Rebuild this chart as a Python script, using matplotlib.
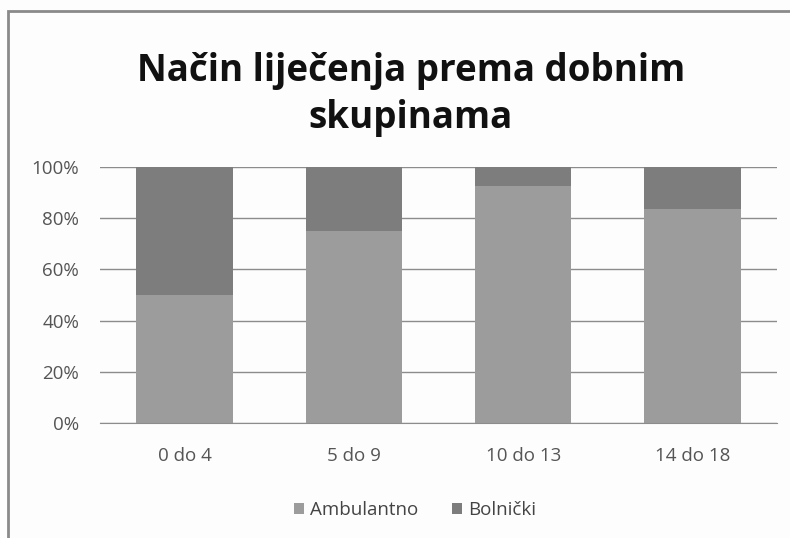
import matplotlib.pyplot as plt
from matplotlib.patches import Rectangle

# podaci
kategorije = ["0 do 4", "5 do 9", "10 do 13", "14 do 18"]
ambulantno = [50, 75, 92.6, 83.6]
bolnicki = [50, 25, 7.4, 16.4]

plt.rcParams['font.family'] = ['Open Sans', 'DejaVu Sans']

fig = plt.figure(figsize=(7.9, 5.38), dpi=100)
fig.patch.set_facecolor('#fdfdfd')

# okvir grafikona (lijevo i gore vidljivo)
fig.add_artist(Rectangle((8 / 790, -0.1), 1.2, 1 - 11 / 538 + 0.1, transform=fig.transFigure,
                         fill=False, edgecolor='#8a8a8a', linewidth=2))

ax = fig.add_axes([100 / 790, 115 / 538, 677 / 790, 256 / 538])
ax.set_facecolor('#fdfdfd')

x = range(len(kategorije))
ax.bar(x, ambulantno, width=0.57, color='#9c9c9c', label='Ambulantno', zorder=2)
ax.bar(x, bolnicki, width=0.57, bottom=ambulantno, color='#7d7d7d', label='Bolnički', zorder=2)

ax.set_xlim(-0.5, 3.5)
ax.set_ylim(0, 100)
ax.set_yticks([0, 20, 40, 60, 80, 100])
ax.set_yticklabels([f"{v}%" for v in [0, 20, 40, 60, 80, 100]])
ax.set_xticks(list(x))
ax.set_xticklabels(kategorije)
ax.yaxis.grid(True, color='#8c8c8c', linewidth=1, zorder=0)
ax.tick_params(length=0, labelsize=13.5, colors='#555555')
ax.tick_params(axis='y', pad=15)
ax.tick_params(axis='x', pad=17)
for s in ['top', 'right', 'left']:
    ax.spines[s].set_visible(False)
ax.spines['bottom'].set_color('#8c8c8c')

fig.text(0.52, 0.825, "Način liječenja prema dobnim\nskupinama", ha='center', va='center',
         fontsize=26.5, fontweight='bold', linespacing=1.3, color='#111111')

fig.legend(loc='center', bbox_to_anchor=(0.525, 0.052), ncol=2, frameon=False,
           fontsize=13.5, handlelength=0.55, handleheight=0.55, handletextpad=0.3,
           columnspacing=1.8, labelcolor='#444444')

plt.savefig('out.png', dpi=100, facecolor=fig.get_facecolor())
